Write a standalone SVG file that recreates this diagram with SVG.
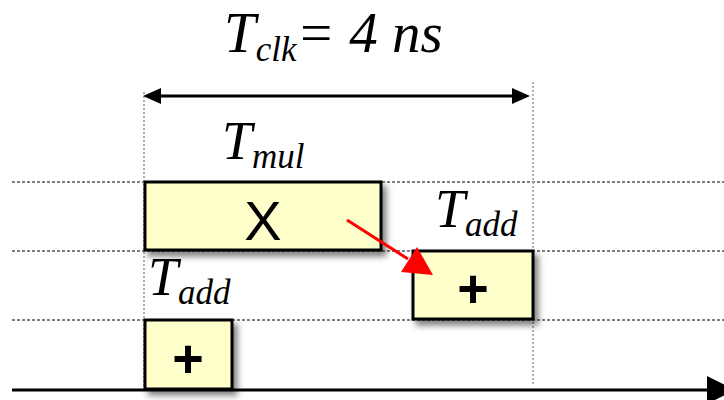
<svg xmlns="http://www.w3.org/2000/svg" width="724" height="400" viewBox="0 0 724 400">
<defs>
<filter id="sh" x="-20%" y="-20%" width="150%" height="160%">
<feDropShadow dx="4" dy="5" stdDeviation="3" flood-color="#000" flood-opacity="0.5"/>
</filter>
<style>
.grid{stroke:#000;stroke-width:1;stroke-dasharray:3 2;fill:none}
.vdot{stroke:#b0b0b0;stroke-width:2;stroke-dasharray:2 2;fill:none}
.box{fill:#FFFFCC;stroke:#000;stroke-width:3;filter:url(#sh)}
.op{font-family:"Liberation Sans",Arial,sans-serif;font-size:56px;fill:#000;text-anchor:middle}
.plus{font-family:"Liberation Sans",Arial,sans-serif;font-size:54px;font-weight:bold;fill:#000;text-anchor:middle}
.lbl{font-family:"Liberation Serif","Times New Roman",serif;font-style:italic;fill:#000;font-size:54px}
.sub{font-size:35px}
.ttl{font-size:57px}
</style>
</defs>
<rect x="0" y="0" width="724" height="400" fill="#fff"/>
<g id="grid">
<line class="grid" x1="12" y1="182" x2="724" y2="182"/>
<line class="grid" x1="12" y1="251" x2="724" y2="251"/>
<line class="grid" x1="12" y1="320" x2="724" y2="320"/>
<line class="vdot" x1="144" y1="92" x2="144" y2="390"/>
<line class="vdot" x1="533" y1="82" x2="533" y2="385"/>
</g>
<g id="title">
<text class="lbl" x="224" y="52"><tspan class="ttl">T</tspan><tspan class="sub" dy="9">clk</tspan><tspan class="ttl" dy="-9">= 4 ns</tspan></text>
</g>
<g id="mul">
<rect class="box" x="145" y="182" width="236" height="68"/>
<text class="op" x="263" y="240">X</text>
<text class="lbl" x="222" y="159">T<tspan class="sub" dy="9">mul</tspan></text>
</g>
<g id="add2">
<rect class="box" x="413" y="251" width="120" height="68"/>
<text class="plus" x="473" y="307">+</text>
<text class="lbl" x="435" y="227">T<tspan class="sub" dy="9">add</tspan></text>
</g>
<g id="add1">
<rect class="box" x="145" y="320" width="87" height="69"/>
<text class="plus" x="188" y="377">+</text>
<text class="lbl" x="148" y="295">T<tspan class="sub" dy="9">add</tspan></text>
</g>
<g id="connectors">
<line x1="160" y1="96" x2="513" y2="96" stroke="#000" stroke-width="3"/>
<polygon points="143,96 161,88 161,104" fill="#000"/>
<polygon points="530,96 512,88 512,104" fill="#000"/>
<line x1="347" y1="220" x2="408" y2="259" stroke="#f00" stroke-width="3"/>
<polygon points="433,275 401,272 417,247" fill="#f00"/>
<line x1="12" y1="390" x2="708" y2="390" stroke="#000" stroke-width="3"/>
<polygon points="707,376 707,404 735,390" fill="#000"/>
</g>
</svg>
